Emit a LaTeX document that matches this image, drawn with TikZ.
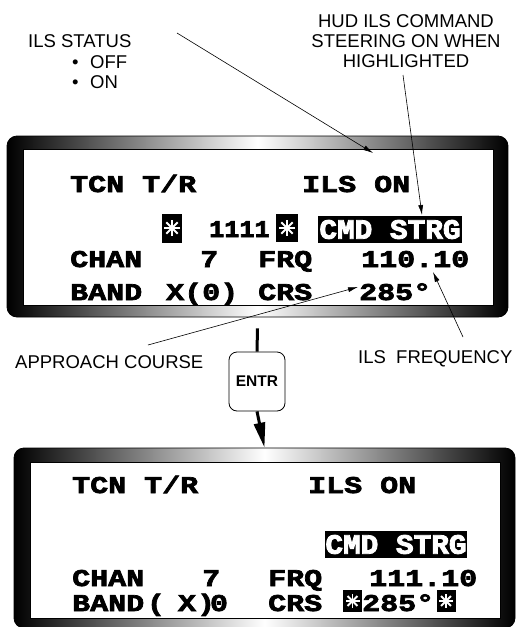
\documentclass[tikz,border=0pt]{standalone}
\usepackage{fontspec}
\setmainfont{Liberation Sans}
\newfontfamily\lcd[FakeStretch=1.25,FakeBold=3]{Liberation Mono}
\newfontfamily\lcdn[FakeStretch=1.05,FakeBold=3]{Liberation Mono}
\usetikzlibrary{arrows.meta}
\begin{document}
\begin{tikzpicture}[x=1pt,y=-1pt,
  lbl/.style={font=\fontsize{18.5}{20}\selectfont, inner sep=0},
  lcdtxt/.style={font=\lcd\bfseries\fontsize{24}{24}\selectfont, inner sep=0, anchor=base west},
  lcdc/.style={font=\lcd\bfseries\fontsize{24}{24}\selectfont, inner sep=0, anchor=base},
  lcdnarrow/.style={font=\lcdn\bfseries\fontsize{24}{24}\selectfont, inner sep=0, anchor=base west},
  hibox/.style={fill=black, text=white, inner sep=0, font=\lcdn\bfseries\fontsize{28}{28}\selectfont},
  astbox/.style 2 args={fill=black, inner sep=0, minimum width=#1, path picture={
      \foreach \a in {0,45,90,135}
        \draw[white, line width=1.8pt] (path picture bounding box.center) ++(\a:#2) -- ++(\a+180:2*#2);}},
  panel/.style={draw=black, line width=0.8pt, rounded corners=10pt, left color=black, right color=black, middle color=white, inner sep=0},
  screen/.style={draw=black, line width=0.6pt, fill=white, inner sep=0},
  note/.style={line width=0.6pt, -{Latex[length=10pt,width=5pt]}},
  flow/.style={line width=3pt}
]
\useasboundingbox (0,0) rectangle (517,627);

% ---------- top panel ----------
\node[panel, minimum width=501pt, minimum height=181pt] (p1) at (257.5,226.5) {};
\node[screen, minimum width=470pt, minimum height=156pt] (s1) at (258,227) {};

\node[lcdtxt] (t1a) at (70,192) {TCN T/R};
\node[lcdtxt] (t1b) at (302,192) {ILS ON};
\node[astbox={20pt}{8pt}, minimum height=29pt] (a1) at (172,228) {};
\node[lcdnarrow] (t1c) at (209,237) {1111};
\node[astbox={22pt}{8pt}, minimum height=28pt] (a2) at (287,228) {};
\node[hibox, minimum width=144pt, minimum height=27pt] (c1) at (390,229.5) {CMD STRG};
\node[lcdtxt] (t1d) at (70,267) {CHAN};
\node[lcdtxt] (t1e) at (200,267) {7};
\node[lcdtxt] (t1f) at (258,267) {FRQ};
\node[lcdtxt] (t1g) at (361,267) {110.10};
\node[lcdtxt] (t1h) at (70,300) {BAND};
\node[lcdtxt] (t1i) at (166,300) {X(0)};
\node[lcdtxt] (t1j) at (258,300) {CRS};
\node[lcdtxt] (t1k) at (359,300) {285°};

% ---------- annotations ----------
\node[lbl, anchor=base west] (ls) at (28,47) {ILS STATUS};
\node[lbl, anchor=base west] (b1) at (72,68) {•};
\node[lbl, anchor=base west] (off) at (90,68) {OFF};
\node[lbl, anchor=base west] (b2) at (72,88) {•};
\node[lbl, anchor=base west] (on) at (90,88) {ON};
\node[lbl, align=center, anchor=north] (hud) at (406,14) {HUD ILS COMMAND\\STEERING ON WHEN\\HIGHLIGHTED};
\node[lbl, anchor=base west] (ac) at (15,368) {APPROACH COURSE};
\node[lbl, anchor=base west] (fq) at (358,363) {ILS\ \ FREQUENCY};

\coordinate (lsA) at (177,33);  \coordinate (lsB) at (373,153);
\coordinate (hudA) at (403,75); \coordinate (hudB) at (422,215);
\coordinate (acA) at (148,345); \coordinate (acB) at (358,287);
\coordinate (fqA) at (463,337); \coordinate (fqB) at (433,272);
\draw[note] (lsA) -- (lsB);
\draw[note] (hudA) -- (hudB);
\draw[note] (acA) -- (acB);
\draw[note] (fqA) -- (fqB);

% ---------- ENTR ----------
\node[draw, line width=0.8pt, rounded corners=8pt, minimum width=56pt, minimum height=59pt, inner sep=0,
      font=\bfseries\fontsize{15.5}{16}\selectfont] (entr) at (257,381.5) {ENTR};

% ---------- bottom panel ----------
\node[panel, minimum width=501pt, minimum height=180pt] (p2) at (264.5,538) {};
\node[screen, minimum width=470pt, minimum height=156pt] (s2) at (265,540) {};

\draw[flow] ([yshift=-11pt]p1.south) -- (entr.north);
\draw[flow, -{Triangle[length=25pt,width=11pt]}] (entr.south) -- (p2.north);

\node[lcdtxt] (t2a) at (72,493) {TCN T/R};
\node[lcdtxt] (t2b) at (308,493) {ILS ON};
\node[hibox, minimum width=142pt, minimum height=27pt] (c2) at (396,544.5) {CMD STRG};
\node[lcdtxt] (t2d) at (72,586) {CHAN};
\node[lcdtxt] (t2e) at (202,586) {7};
\node[lcdtxt] (t2f) at (268,586) {FRQ};
\node[lcdtxt] (t2g) at (369,586) {111.10};
\node[lcdtxt] (t2h) at (72,611) {BAND};
\node[lcdc] (t2i) at (156,611) {(};
\node[lcdc] (t2j) at (187,611) {X};
\node[lcdc] (t2k) at (206,611) {)};
\node[lcdc] (t2l) at (219,611) {0};
\node[lcdtxt] (t2m) at (268,611) {CRS};
\node[astbox={19pt}{7pt}, minimum height=22pt] (a3) at (352.5,601) {};
\node[lcdtxt] (t2n) at (362,611) {285°};
\node[astbox={19pt}{7pt}, minimum height=22pt] (a4) at (446,601) {};
\end{tikzpicture}
\end{document}
